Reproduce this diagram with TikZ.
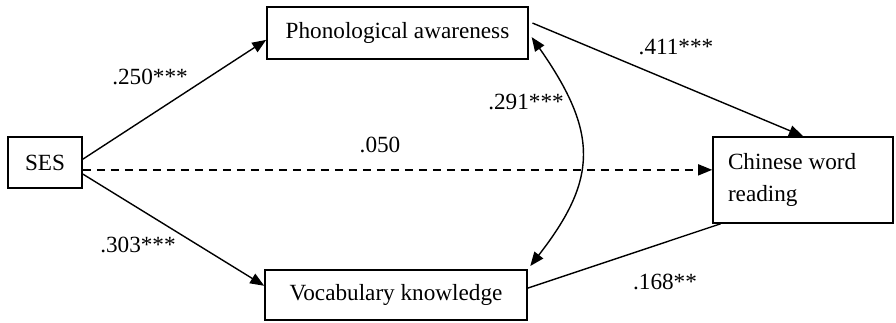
\documentclass[tikz,border=0pt]{standalone}
\usepackage{fontspec}
\setmainfont{Liberation Serif}
\usetikzlibrary{arrows.meta}
\tikzset{
  varbox/.style={draw,rectangle,line width=0.8pt,inner sep=0pt,align=center,font=\fontsize{11.6}{16}\selectfont},
  coef/.style={inner sep=0pt,font=\fontsize{11.6}{14}\selectfont},
  arr/.style={-{Triangle[length=7pt,width=5.5pt]},line width=0.7pt},
  dasharr/.style={arr,dash pattern=on 4pt off 3pt},
  dblarr/.style={{Triangle[length=7pt,width=5.5pt]}-{Triangle[length=7pt,width=5.5pt]},line width=0.7pt},
  plainln/.style={line width=0.7pt}
}
\begin{document}
\begin{tikzpicture}[x=0.5pt,y=-0.5pt]
  \useasboundingbox (0,0) rectangle (896,322);
  \node[varbox,minimum width=37pt,minimum height=25.5pt] (ses) at (45,162.5) {SES};
  \node[varbox,minimum width=130.5pt,minimum height=26pt] (pa) at (397.5,33) {Phonological awareness};
  \node[varbox,minimum width=131pt,minimum height=25pt] (vk) at (396,295) {Vocabulary knowledge};
  \node[varbox,minimum width=90pt,minimum height=43pt,text width=75pt,align=flush left] (cwr) at (803,180) {Chinese word\\reading};

  \draw[arr] (ses.5) -- (pa.183);
  \draw[arr] (ses.-17) -- (vk.176.5);
  \draw[dasharr] (ses.-11) -- (ses.-11 -| cwr.west);
  \draw[arr,shorten <=2pt] (pa.5) -- (cwr.north);
  \draw[plainln] (vk.3.5) -- (cwr.208);
  \draw[dblarr,shorten <=2.5pt,shorten >=2pt] (pa.east) .. controls +(70,100) and +(70,-90) .. (vk.north east);

  % path coefficients
  \node[coef] (c250) at (150,77) {.250***};
  \node[coef] (c303) at (138,245) {.303***};
  \node[coef] (c050) at (380,145) {.050};
  \node[coef] (c291) at (526,102) {.291***};
  \node[coef] (c411) at (676,47) {.411***};
  \node[coef] (c168) at (665,282) {.168**};
\end{tikzpicture}
\end{document}
